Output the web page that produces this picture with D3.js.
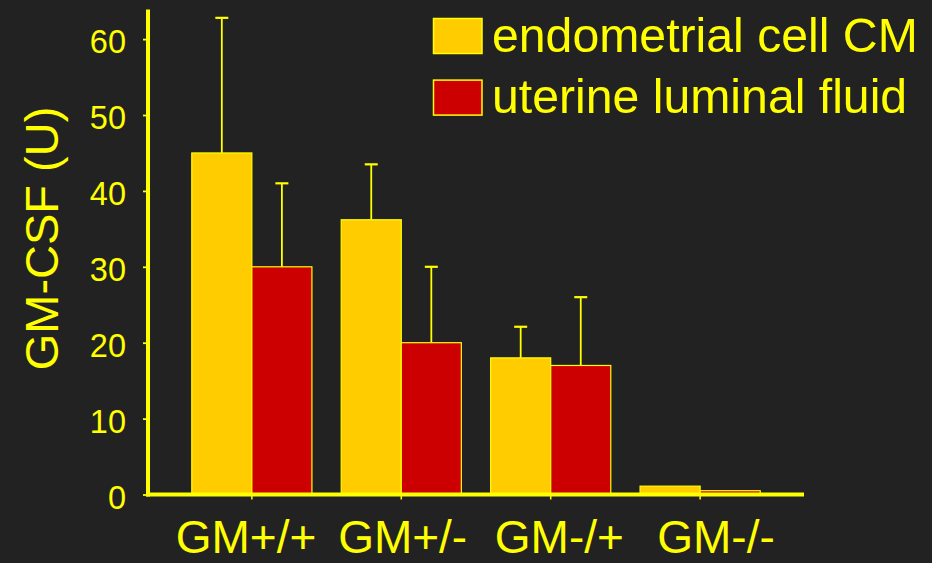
<!DOCTYPE html>
<html>
<head>
<meta charset="utf-8">
<script src="https://cdn.jsdelivr.net/npm/d3@7"></script>
<style>
  html, body { margin: 0; padding: 0; background: #222222; }
  svg { display: block; }
  text { font-family: "Liberation Sans", Arial, sans-serif; fill: #ffff00; }
</style>
</head>
<body>
<svg id="chart" width="932" height="563"></svg>
<script>
// GM-CSF levels by genotype
const categories = ["GM+/+", "GM+/-", "GM-/+", "GM-/-"];
const seriesNames = ["endometrial cell CM", "uterine luminal fluid"];
const cmMean = [45, 36.2, 18, 1.1];
const cmUpper = [62.8, 43.5, 22.1, null];
const fluidMean = [30, 20, 17, 0.5];
const fluidUpper = [41, 30, 26, null];
const yTicks = [0, 10, 20, 30, 40, 50, 60];

const colors = { cm: "#ffcc00", fluid: "#cc0000", ink: "#ffff00" };

const rows = categories.map((c, i) => [
  { cat: c, key: seriesNames[0], mean: cmMean[i], upper: cmUpper[i], fill: colors.cm },
  { cat: c, key: seriesNames[1], mean: fluidMean[i], upper: fluidUpper[i], fill: colors.fluid }
]).flat();

const svg = d3.select("#chart");
const W = 932, H = 563;
svg.append("rect").attr("width", W).attr("height", H).attr("fill", "#222222");

const plotLeft = 148, plotRight = 804, plotTop = 9.5, plotBottom = 494.5;

const y = d3.scaleLinear().domain([0, 63.9]).range([plotBottom, plotTop]);
const x = d3.scaleBand().domain(categories).range([plotLeft, plotRight])
  .paddingInner(0.196).paddingOuter(0.293);
const xs = d3.scaleBand().domain(seriesNames).range([0, x.bandwidth()]);

// category labels sit on a slightly wider spacing than the bar groups
const xLabel = d3.scalePoint().domain(categories).range([246, 716]);

// bars
svg.append("g").selectAll("rect").data(rows).join("rect")
  .attr("x", d => x(d.cat) + xs(d.key))
  .attr("y", d => y(d.mean))
  .attr("width", xs.bandwidth())
  .attr("height", d => y(0) - y(d.mean))
  .attr("fill", d => d.fill)
  .attr("stroke", colors.ink)
  .attr("stroke-width", 1.2);

// error bars (upper side only)
const eb = svg.append("g").attr("stroke", colors.ink);
const withErr = rows.filter(d => d.upper != null);
const cx = d => x(d.cat) + xs(d.key) + xs.bandwidth() / 2;
eb.selectAll("line.stem").data(withErr).join("line")
  .attr("class", "stem")
  .attr("x1", cx).attr("x2", cx)
  .attr("y1", d => y(d.mean))
  .attr("y2", d => y(d.upper))
  .attr("stroke-width", 1.8);
eb.selectAll("line.cap").data(withErr).join("line")
  .attr("class", "cap")
  .attr("x1", d => cx(d) - 6.5)
  .attr("x2", d => cx(d) + 6.5)
  .attr("y1", d => y(d.upper))
  .attr("y2", d => y(d.upper))
  .attr("stroke-width", 2.2);

// y axis
const yAxis = svg.append("g")
  .attr("transform", `translate(${plotLeft},0)`)
  .call(d3.axisLeft(y).tickValues(yTicks).tickSize(5).tickPadding(17).tickFormat(d3.format("d")));
yAxis.select(".domain").remove();
yAxis.selectAll(".tick line").attr("stroke", colors.ink).attr("stroke-width", 1.8);
yAxis.selectAll(".tick text")
  .attr("fill", colors.ink)
  .attr("dy", "0.42em")
  .style("font-size", "32.5px")
  .style("font-family", "'Liberation Sans', Arial, sans-serif");

// x axis ticks
const xAxis = svg.append("g")
  .attr("transform", `translate(0,${plotBottom})`)
  .call(d3.axisBottom(x).tickSize(5).tickFormat(""));
xAxis.select(".domain").remove();
xAxis.selectAll(".tick line").attr("stroke", colors.ink).attr("stroke-width", 1.5);

// heavy axis lines
svg.append("line")
  .attr("x1", plotLeft).attr("x2", plotLeft)
  .attr("y1", plotTop).attr("y2", plotBottom + 2)
  .attr("stroke", colors.ink).attr("stroke-width", 4);
svg.append("line")
  .attr("x1", plotLeft - 2).attr("x2", plotRight)
  .attr("y1", plotBottom).attr("y2", plotBottom)
  .attr("stroke", colors.ink).attr("stroke-width", 4);

// category labels
svg.append("g").selectAll("text").data(categories).join("text")
  .attr("x", d => xLabel(d))
  .attr("y", 553)
  .attr("text-anchor", "middle")
  .style("font-size", "46px")
  .text(d => d);

// y-axis title
svg.append("text")
  .attr("transform", "translate(58,238.5) rotate(-90)")
  .attr("text-anchor", "middle")
  .style("font-size", "47px")
  .text("GM-CSF (U)");

// legend
const legendFills = [colors.cm, colors.fluid];
const legendBaselines = [51.7, 113.3];
const lg = svg.append("g").selectAll("g").data(seriesNames).join("g");
lg.append("rect")
  .attr("x", 433.5)
  .attr("y", (d, i) => legendBaselines[i] - 33.2)
  .attr("width", 48.5)
  .attr("height", 35)
  .attr("fill", (d, i) => legendFills[i])
  .attr("stroke", colors.ink)
  .attr("stroke-width", 1.5);
lg.append("text")
  .attr("x", 492)
  .attr("y", (d, i) => legendBaselines[i])
  .style("font-size", "48.2px")
  .text(d => d);
</script>
</body>
</html>
